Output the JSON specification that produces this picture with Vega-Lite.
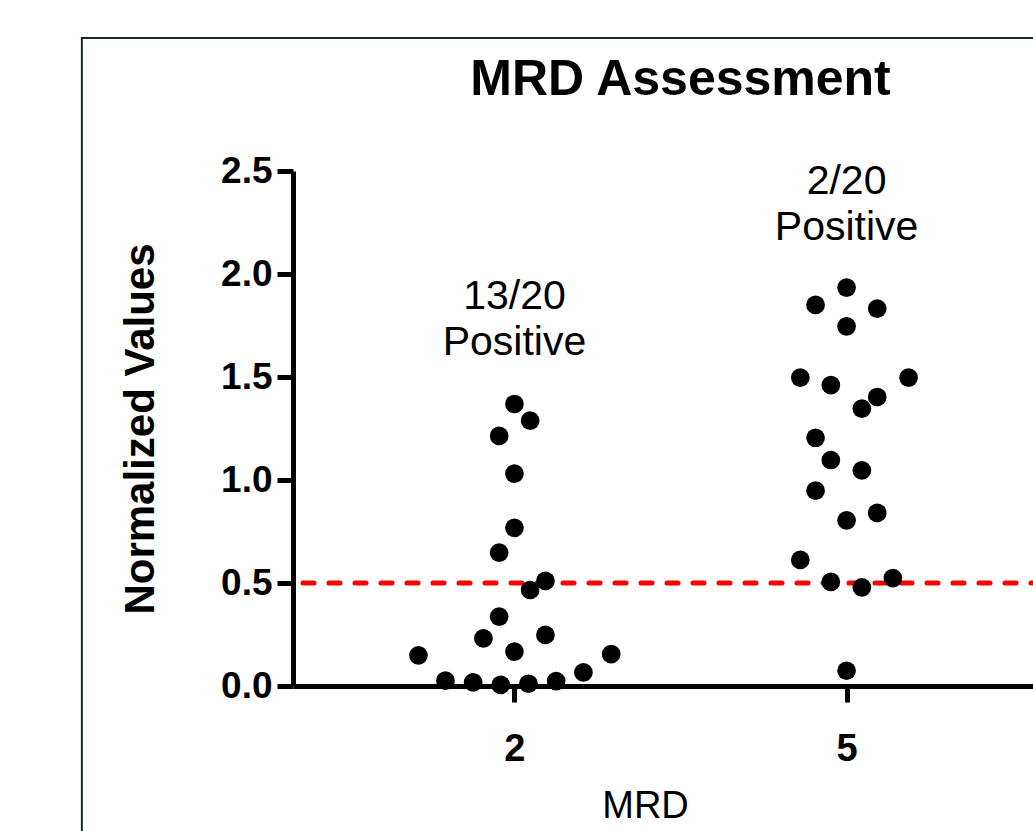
{
  "$schema": "https://vega.github.io/schema/vega-lite/v6.json",
  "autosize": {"type": "none"},
  "padding": {"left": 293, "top": 171, "right": 0, "bottom": 145},
  "width": 775,
  "height": 515,
  "background": "white",
  "config": {
    "view": {"stroke": null},
    "font": "Liberation Sans"
  },
  "title": {
    "text": "MRD Assessment",
    "fontSize": 50,
    "fontWeight": "bold",
    "font": "Liberation Sans",
    "color": "black",
    "anchor": "middle",
    "frame": "group",
    "baseline": "alphabetic",
    "offset": -108
  },
  "datasets": {
    "frame": [{"x": -1.907, "x2": 9, "y": 3.146, "y2": -1}],
    "ref": [{"y": 0.5}],
    "points": [
      {"group": "2", "pos": 2.0, "value": 1.369},
      {"group": "2", "pos": 2.142, "value": 1.288},
      {"group": "2", "pos": 1.862, "value": 1.214},
      {"group": "2", "pos": 2.0, "value": 1.031},
      {"group": "2", "pos": 2.0, "value": 0.768},
      {"group": "2", "pos": 1.862, "value": 0.647},
      {"group": "2", "pos": 2.28, "value": 0.51},
      {"group": "2", "pos": 2.142, "value": 0.466},
      {"group": "2", "pos": 1.862, "value": 0.337},
      {"group": "2", "pos": 1.72, "value": 0.231},
      {"group": "2", "pos": 2.28, "value": 0.248},
      {"group": "2", "pos": 2.0, "value": 0.167},
      {"group": "2", "pos": 1.133, "value": 0.149},
      {"group": "2", "pos": 2.874, "value": 0.155},
      {"group": "2", "pos": 2.623, "value": 0.066},
      {"group": "2", "pos": 1.377, "value": 0.026},
      {"group": "2", "pos": 1.627, "value": 0.018},
      {"group": "2", "pos": 1.876, "value": 0.005},
      {"group": "2", "pos": 2.127, "value": 0.011},
      {"group": "2", "pos": 2.377, "value": 0.024},
      {"group": "5", "pos": 5.0, "value": 1.934},
      {"group": "5", "pos": 4.72, "value": 1.85},
      {"group": "5", "pos": 5.277, "value": 1.832},
      {"group": "5", "pos": 5.0, "value": 1.746},
      {"group": "5", "pos": 4.582, "value": 1.497},
      {"group": "5", "pos": 5.56, "value": 1.497},
      {"group": "5", "pos": 4.858, "value": 1.461},
      {"group": "5", "pos": 5.277, "value": 1.403},
      {"group": "5", "pos": 5.138, "value": 1.346},
      {"group": "5", "pos": 4.72, "value": 1.205},
      {"group": "5", "pos": 4.858, "value": 1.097},
      {"group": "5", "pos": 5.138, "value": 1.047},
      {"group": "5", "pos": 4.72, "value": 0.948},
      {"group": "5", "pos": 5.277, "value": 0.84},
      {"group": "5", "pos": 5.0, "value": 0.804},
      {"group": "5", "pos": 4.582, "value": 0.612},
      {"group": "5", "pos": 5.418, "value": 0.524},
      {"group": "5", "pos": 4.858, "value": 0.505},
      {"group": "5", "pos": 5.138, "value": 0.479},
      {"group": "5", "pos": 5.0, "value": 0.074}
    ],
    "labels": [
      {"pos": 2, "value": 1.888, "text": "13/20"},
      {"pos": 2, "value": 1.665, "text": "Positive"},
      {"pos": 5, "value": 2.447, "text": "2/20"},
      {"pos": 5, "value": 2.223, "text": "Positive"}
    ]
  },
  "layer": [
    {
      "data": {"name": "frame"},
      "mark": {"type": "rect", "filled": false, "stroke": "#15292e", "strokeWidth": 2},
      "encoding": {
        "x": {"field": "x", "type": "quantitative"},
        "x2": {"field": "x2"},
        "y": {"field": "y", "type": "quantitative"},
        "y2": {"field": "y2"}
      }
    },
    {
      "data": {"name": "ref"},
      "mark": {"type": "rule", "color": "#ff0000", "strokeWidth": 5, "strokeDash": [11, 15], "strokeCap": "round"},
      "encoding": {
        "y": {"field": "y", "type": "quantitative"}
      }
    },
    {
      "data": {"name": "points"},
      "mark": {"type": "circle", "color": "black", "opacity": 1, "size": 350},
      "encoding": {
        "x": {
          "field": "pos", "type": "quantitative",
          "scale": {"domain": [0, 7], "nice": false, "zero": false},
          "axis": {
            "values": [2, 5],
            "format": ".0f",
            "title": "MRD",
            "grid": false,
            "domainColor": "black",
            "domainWidth": 5,
            "tickColor": "black",
            "tickWidth": 5,
            "tickSize": 16,
            "labelFont": "Liberation Sans",
            "labelFontSize": 38,
            "labelFontWeight": "bold",
            "labelColor": "black",
            "labelBaseline": "alphabetic",
            "labelPadding": 58,
            "labelFlush": false,
            "titleFont": "Liberation Sans",
            "titleFontSize": 38,
            "titleFontWeight": "normal",
            "titleColor": "black",
            "titleX": 352,
            "titleY": 131,
            "titleAlign": "center",
            "titleBaseline": "alphabetic"
          }
        },
        "y": {
          "field": "value", "type": "quantitative",
          "scale": {"domain": [0, 2.5], "nice": false},
          "axis": {
            "values": [0, 0.5, 1, 1.5, 2, 2.5],
            "format": ".1f",
            "title": "Normalized Values",
            "grid": false,
            "domainColor": "black",
            "domainWidth": 5,
            "tickColor": "black",
            "tickWidth": 5,
            "tickSize": 16,
            "labelFont": "Liberation Sans",
            "labelFontSize": 37,
            "labelFontWeight": "bold",
            "labelColor": "black",
            "labelPadding": 5,
            "labelBaseline": "middle",
            "labelFlush": false,
            "titleFont": "Liberation Sans",
            "titleFontSize": 42,
            "titleFontWeight": "bold",
            "titleColor": "black",
            "titleAngle": -90,
            "titleX": -140,
            "titleY": 257.5,
            "titleAlign": "center",
            "titleBaseline": "alphabetic"
          }
        }
      }
    },
    {
      "data": {"name": "labels"},
      "mark": {"type": "text", "font": "Liberation Sans", "fontSize": 41, "color": "black", "align": "center", "baseline": "middle"},
      "encoding": {
        "x": {"field": "pos", "type": "quantitative"},
        "y": {"field": "value", "type": "quantitative"},
        "text": {"field": "text"}
      }
    }
  ]
}
